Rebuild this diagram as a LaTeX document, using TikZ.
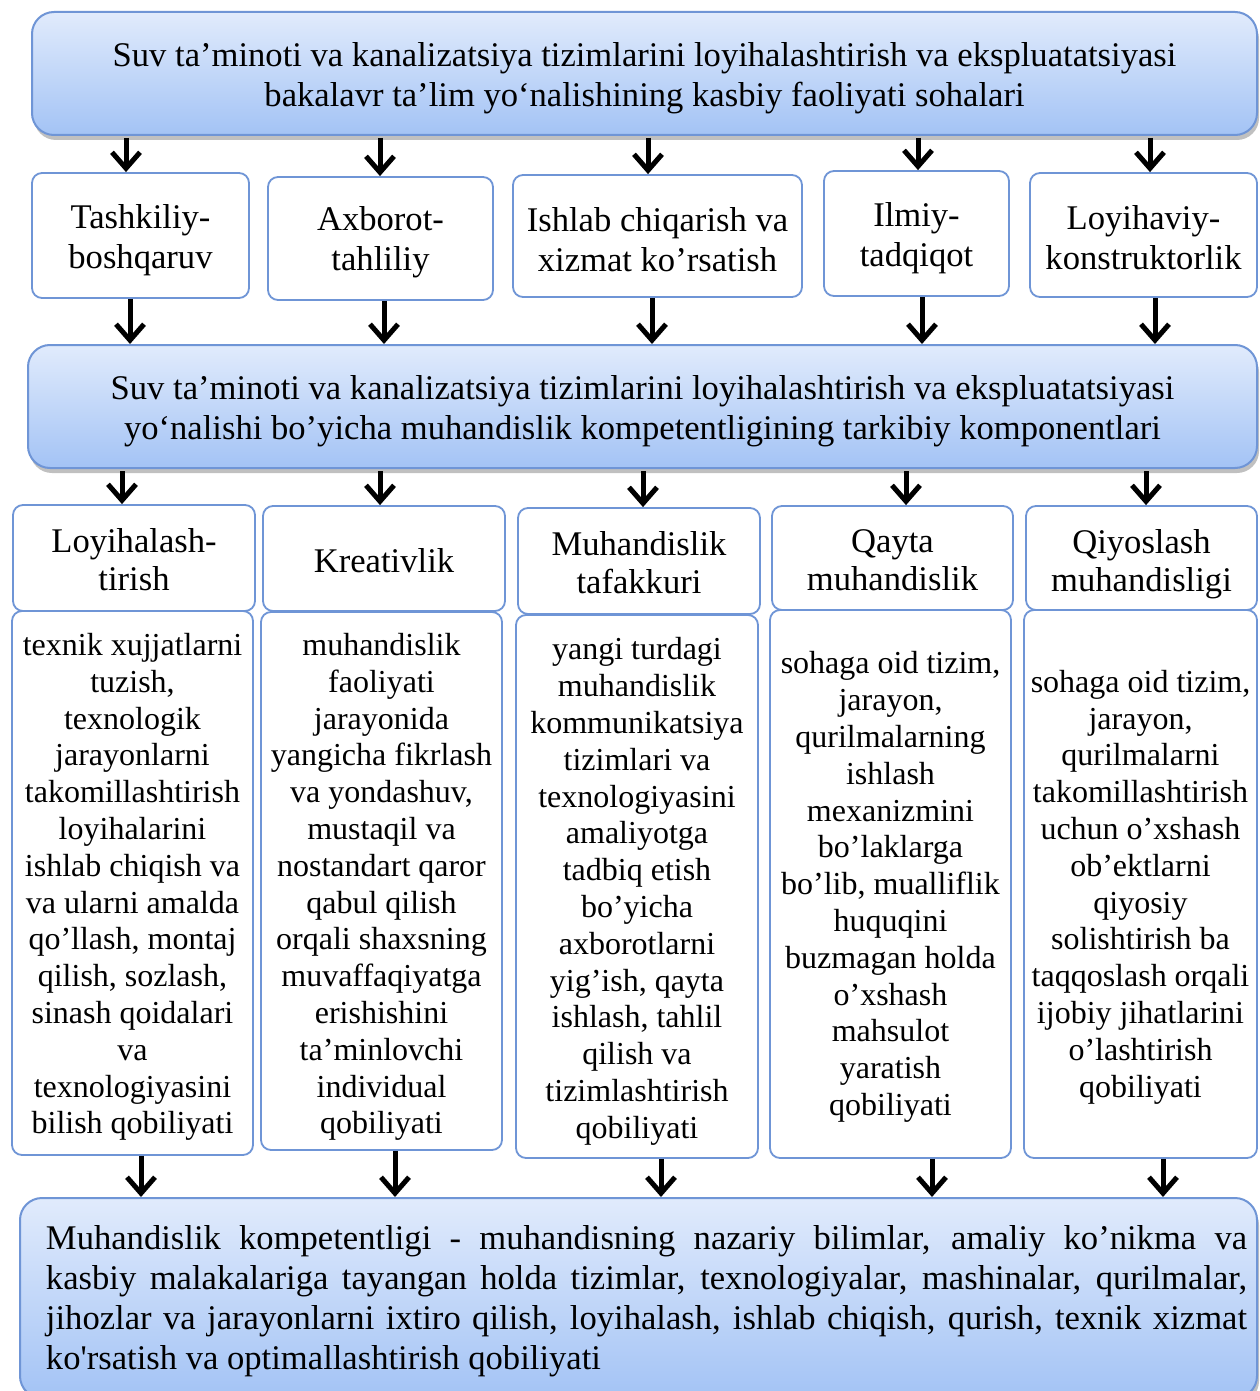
\documentclass[tikz,border=0pt]{standalone}
\usepackage{fontspec}
\setmainfont{Liberation Serif}
\usetikzlibrary{arrows.meta,shadows,calc}
\definecolor{bordc}{HTML}{6F95D6}
\definecolor{gtop}{HTML}{E1EBFC}
\definecolor{gbot}{HTML}{A3C3F5}
% name, box style, text style, x1, y1, x2, y2, text shift (px, down), text
\newcommand{\mkbox}[9]{%
  \node[#2, minimum width={(#6-#4)*0.5pt}, minimum height={(#7-#5)*0.5pt}] (#1) at ({(#4+#6)/2},{(#5+#7)/2}) {};
  \node[#3] (#1-t) at ($(#1.center)+(0,#8)$) {#9};}
\tikzset{
  big/.style={draw=bordc, line width=1pt, rounded corners=11pt, top color=gtop, bottom color=gbot,
    drop shadow={shadow xshift=1pt, shadow yshift=-2.5pt, opacity=0.35, fill=black!70}, inner sep=0pt},
  wbox/.style={draw=bordc, line width=0.9pt, rounded corners=5pt, fill=white, inner sep=0pt},
  bigt/.style={inner sep=0pt, align=center, font=\fontsize{17.3}{20}\selectfont},
  rowt/.style={inner sep=0pt, align=center, font=\fontsize{17.3}{20}\selectfont},
  headt/.style={inner sep=0pt, align=center, font=\fontsize{17.3}{19}\selectfont},
  desct/.style={inner sep=0pt, align=center, font=\fontsize{16}{18.4}\selectfont},
  arr/.style={line width=2.5pt, -{Straight Barb[length=8pt,width=14pt]}}
}
\begin{document}
\begin{tikzpicture}[x=0.5pt,y=-0.5pt]
\useasboundingbox (0,0) rectangle (1259,1391);
\fill[white] (0,0) rectangle (1259,1391);
% top
\mkbox{top}{big}{bigt}{32}{12}{1257}{135}{5}{Suv ta’minoti va kanalizatsiya tizimlarini loyihalashtirish va ekspluatatsiyasi\\bakalavr ta’lim yo‘nalishining kasbiy faoliyati sohalari}
% row 1
\mkbox{r1}{wbox}{rowt}{32}{173}{249}{298}{5}{Tashkiliy-\\boshqaruv}
\mkbox{r2}{wbox}{rowt}{268}{177}{493}{300}{4}{Axborot-\\tahliliy}
\mkbox{r3}{wbox}{rowt}{513}{175}{802}{297}{4}{Ishlab chiqarish va\\xizmat ko’rsatish}
\mkbox{r4}{wbox}{rowt}{824}{171}{1009}{296}{5}{Ilmiy-\\tadqiqot}
\mkbox{r5}{wbox}{rowt}{1030}{173}{1257}{297}{3}{Loyihaviy-\\konstruktorlik}
% middle
\mkbox{mid}{big}{bigt}{28}{345}{1257}{468}{5}{Suv ta’minoti va kanalizatsiya tizimlarini loyihalashtirish va ekspluatatsiyasi\\yo‘nalishi bo’yicha muhandislik kompetentligining tarkibiy komponentlari}
% headers
\mkbox{h1}{wbox}{headt}{13}{505}{255}{611}{2}{Loyihalash-\\tirish}
\mkbox{h2}{wbox}{headt}{263}{506}{505}{611}{2}{Kreativlik}
\mkbox{h3}{wbox}{headt}{518}{508}{760}{614}{2}{Muhandislik\\tafakkuri}
\mkbox{h4}{wbox}{headt}{772}{506}{1013}{610}{2}{Qayta\\muhandislik}
\mkbox{h5}{wbox}{headt}{1026}{506}{1257}{610}{6}{Qiyoslash\\muhandisligi}
% descriptions
\mkbox{d1}{wbox}{desct}{12}{611}{253}{1155}{4}{texnik xujjatlarni\\tuzish,\\texnologik\\jarayonlarni\\takomillashtirish\\loyihalarini\\ishlab chiqish va\\va ularni amalda\\qo’llash, montaj\\qilish, sozlash,\\sinash qoidalari\\va\\texnologiyasini\\bilish qobiliyati}
\mkbox{d2}{wbox}{desct}{261}{612}{502}{1150}{6}{muhandislik\\faoliyati\\jarayonida\\yangicha fikrlash\\va yondashuv,\\mustaqil va\\nostandart qaror\\qabul qilish\\orqali shaxsning\\muvaffaqiyatga\\erishishini\\ta’minlovchi\\individual\\qobiliyati}
\mkbox{d3}{wbox}{desct}{516}{615}{758}{1158}{5}{yangi turdagi\\muhandislik\\kommunikatsiya\\tizimlari va\\texnologiyasini\\amaliyotga\\tadbiq etish\\bo’yicha\\axborotlarni\\yig’ish, qayta\\ishlash, tahlil\\qilish va\\tizimlashtirish\\qobiliyati}
\mkbox{d4}{wbox}{desct}{770}{610}{1011}{1158}{3}{sohaga oid tizim,\\jarayon,\\qurilmalarning\\ishlash\\mexanizmini\\bo’laklarga\\bo’lib, mualliflik\\huquqini\\buzmagan holda\\o’xshash\\mahsulot\\yaratish\\qobiliyati}
\mkbox{d5}{wbox}{desct}{1024}{610}{1257}{1158}{3}{sohaga oid tizim,\\jarayon,\\qurilmalarni\\takomillashtirish\\uchun o’xshash\\ob’ektlarni\\qiyosiy\\solishtirish ba\\taqqoslash orqali\\ijobiy jihatlarini\\o’lashtirish\\qobiliyati}
% bottom
\mkbox{bot}{big}{bigt}{20}{1198}{1257}{1398}{3}{\hspace*{8pt}\parbox{600.5pt}{\raggedright
\makebox[600.5pt][s]{Muhandislik kompetentligi - muhandisning nazariy bilimlar, amaliy ko’nikma va}\\
\makebox[600.5pt][s]{kasbiy malakalariga tayangan holda tizimlar, texnologiyalar, mashinalar, qurilmalar,}\\
\makebox[600.5pt][s]{jihozlar va jarayonlarni ixtiro qilish, loyihalash, ishlab chiqish, qurish, texnik xizmat}\\
ko\textquotesingle rsatish va optimallashtirish qobiliyati}}
% arrow x positions
\foreach \i/\xa/\xb/\xc/\xd in {1/126/130/122/141, 2/380/384/380/395, 3/648/652/643/661, 4/918/922/906/932, 5/1150/1155/1146/1163}{
  \coordinate (a\i) at (\xa,0);
  \coordinate (b\i) at (\xb,0);
  \coordinate (c\i) at (\xc,0);
  \coordinate (e\i) at (\xd,0);
}
\foreach \i in {1,...,5}{
  \draw[arr] ($(top.south -| a\i)+(0,2)$) -- (r\i.north -| a\i);
  \draw[arr] (r\i.south -| b\i) -- (mid.north -| b\i);
  \draw[arr] ($(mid.south -| c\i)+(0,2)$) -- (h\i.north -| c\i);
  \draw[arr] (d\i.south -| e\i) -- (bot.north -| e\i);
}
\end{tikzpicture}
\end{document}
